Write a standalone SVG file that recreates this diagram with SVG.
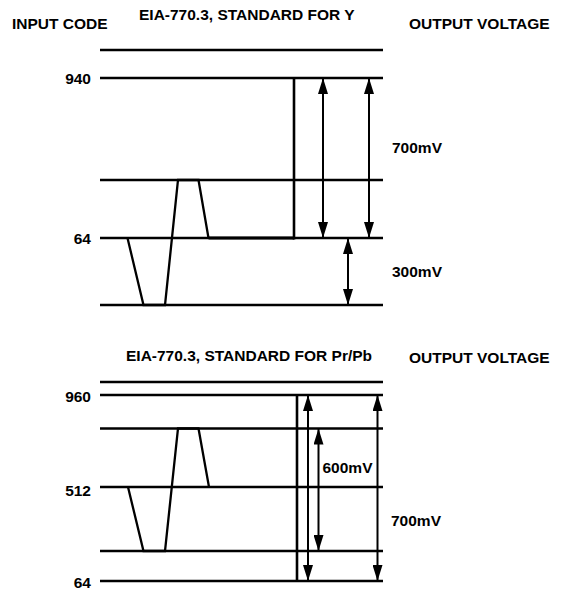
<svg xmlns="http://www.w3.org/2000/svg" width="565" height="598" viewBox="0 0 565 598">
<style>
text{font-family:"Liberation Sans",Arial,sans-serif;font-weight:bold;font-size:15.5px;fill:#000}
.end{text-anchor:end}
.ln{stroke:#000;stroke-width:2.3;fill:none}
.vt{stroke:#000;stroke-width:2.6;fill:none}
.wf{stroke:#000;stroke-width:2.3;fill:none;stroke-linejoin:miter}
.ar{stroke:#000;stroke-width:2;fill:none;marker-start:url(#ah);marker-end:url(#ah)}
</style>
<defs>
<marker id="ah" viewBox="0 0 16 10" refX="16" refY="5" markerWidth="16" markerHeight="10" markerUnits="userSpaceOnUse" orient="auto-start-reverse">
<path d="M0,0 L16,5 L0,10 z" fill="#000"/>
</marker>
</defs>
<rect width="565" height="598" fill="#fff"/>
<g id="labels">
<text x="12" y="29">INPUT CODE</text>
<text x="139" y="20">EIA-770.3, STANDARD FOR Y</text>
<text x="409" y="29">OUTPUT VOLTAGE</text>
<text x="126" y="361">EIA-770.3, STANDARD FOR Pr/Pb</text>
<text x="409" y="363">OUTPUT VOLTAGE</text>
</g>
<g id="y-levels">
<line class="ln" x1="100" y1="50" x2="383" y2="50"/>
<line class="ln" x1="100" y1="78" x2="383" y2="78"/>
<line class="ln" x1="100" y1="180" x2="383" y2="180"/>
<line class="ln" x1="100" y1="238" x2="383" y2="238"/>
<line class="ln" x1="100" y1="305" x2="383" y2="305"/>
<text class="end" x="91" y="84">940</text>
<text class="end" x="91" y="244">64</text>
</g>
<g id="y-waveform">
<polyline class="wf" points="127.5,238 143.5,305 165,305 178,180 198.5,180 208.5,238"/>
<line x1="208.5" y1="238" x2="294" y2="238" stroke="#000" stroke-width="3.2"/>
<line class="vt" x1="294" y1="78" x2="294" y2="239.5"/>
</g>
<g id="y-dimensions">
<line class="ar" x1="323" y1="78" x2="323" y2="238"/>
<line class="ar" x1="369" y1="78" x2="369" y2="238"/>
<line class="ar" x1="348" y1="238" x2="348" y2="305"/>
<text x="392" y="153">700mV</text>
<text x="392" y="277">300mV</text>
</g>
<g id="prpb-levels">
<line class="ln" x1="100" y1="382" x2="383" y2="382"/>
<line class="ln" x1="100" y1="395" x2="383" y2="395"/>
<line class="ln" x1="100" y1="428.5" x2="383" y2="428.5"/>
<line class="ln" x1="100" y1="487" x2="383" y2="487"/>
<line class="ln" x1="100" y1="551" x2="383" y2="551"/>
<line class="ln" x1="100" y1="581" x2="383" y2="581"/>
<text class="end" x="91" y="402">960</text>
<text class="end" x="91" y="496">512</text>
<text class="end" x="91" y="588">64</text>
</g>
<g id="prpb-waveform">
<polyline class="wf" points="128,487 143.5,551 165,551 178,428.5 198.5,428.5 209,487"/>
<line class="vt" x1="297" y1="395" x2="297" y2="582"/>
</g>
<g id="prpb-dimensions">
<line class="ar" x1="308" y1="395" x2="308" y2="581"/>
<line class="ar" x1="318.5" y1="428.5" x2="318.5" y2="551"/>
<line class="ar" x1="377.5" y1="395" x2="377.5" y2="581"/>
<text x="322.5" y="473">600mV</text>
<text x="391" y="526">700mV</text>
</g>
</svg>
